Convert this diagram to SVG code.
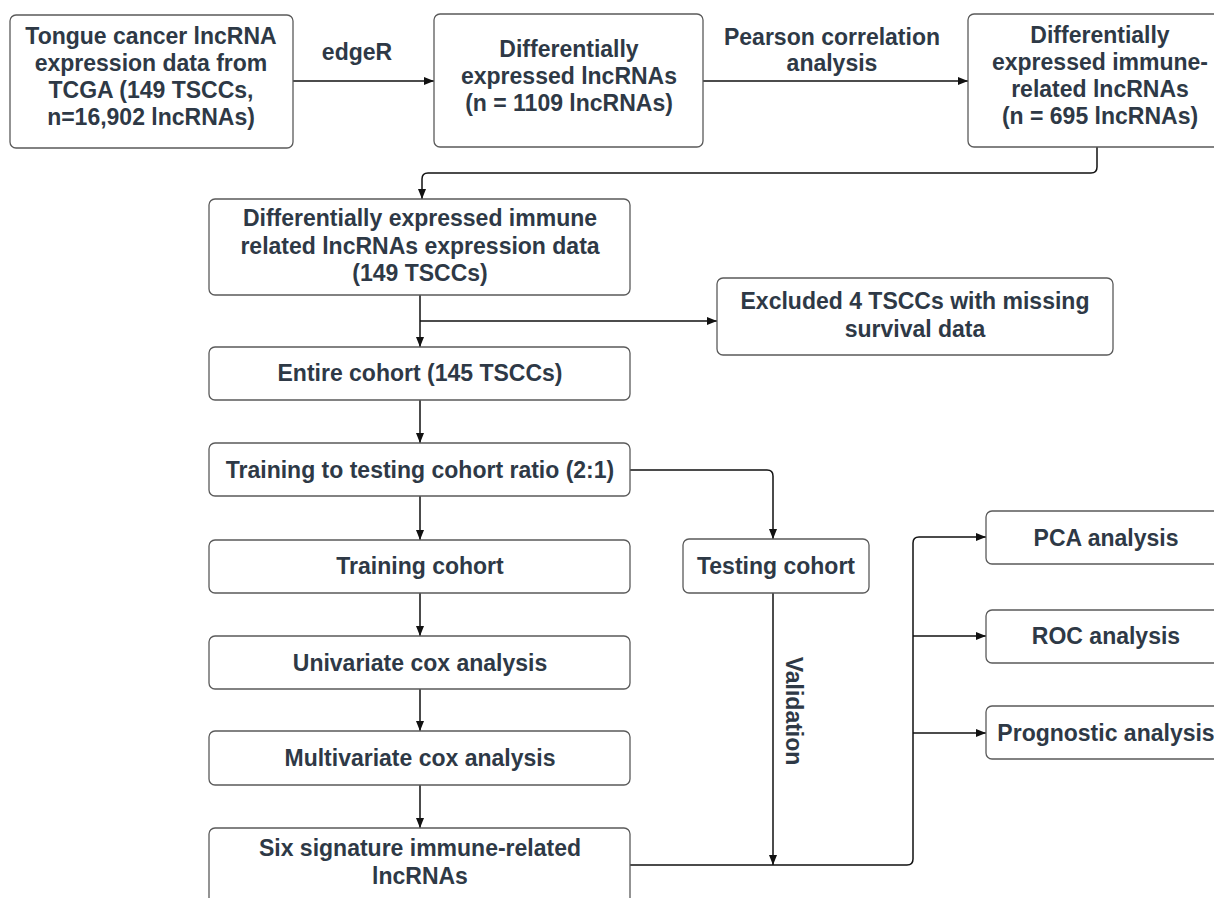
<svg xmlns="http://www.w3.org/2000/svg" width="1214" height="898" viewBox="0 0 1214 898">
<style>
.box{fill:#fff;stroke:#5a5a5a;stroke-width:1.3}
.t{font-family:"Liberation Sans",Arial,sans-serif;font-weight:bold;font-size:23px;fill:#2e3946;text-anchor:middle}
.c{fill:none;stroke:#111;stroke-width:1.5}
</style>
<defs>
<marker id="ah" viewBox="0 0 10 10" refX="10" refY="5" markerWidth="10" markerHeight="10" markerUnits="userSpaceOnUse" orient="auto">
<path d="M0,1 L10,5 L0,9 Z" fill="#111"/>
</marker>
</defs>
<rect width="1214" height="898" fill="#fff"/>
<g id="connectors">
<path class="c" d="M293,81 H434" marker-end="url(#ah)"/>
<path class="c" d="M703,81 H968" marker-end="url(#ah)"/>
<path class="c" d="M1097,147 V167 Q1097,173 1091,173 H428 Q422,173 422,179 V199" marker-end="url(#ah)"/>
<path class="c" d="M420,295 V347" marker-end="url(#ah)"/>
<path class="c" d="M420,321 H717" marker-end="url(#ah)"/>
<path class="c" d="M420,400 V443" marker-end="url(#ah)"/>
<path class="c" d="M630,470 H767 Q773,470 773,476 V539" marker-end="url(#ah)"/>
<path class="c" d="M420,496 V540" marker-end="url(#ah)"/>
<path class="c" d="M420,593 V636" marker-end="url(#ah)"/>
<path class="c" d="M420,689 V731" marker-end="url(#ah)"/>
<path class="c" d="M420,785 V828" marker-end="url(#ah)"/>
<path class="c" d="M773,593 V865" marker-end="url(#ah)"/>
<path class="c" d="M630,865 H907 Q913,865 913,859 V543 Q913,537 919,537 H986" marker-end="url(#ah)"/>
<path class="c" d="M913,636 H986" marker-end="url(#ah)"/>
<path class="c" d="M913,733 H986" marker-end="url(#ah)"/>
<text class="t" x="357" y="60">edgeR</text>
<text class="t" x="832" y="45">Pearson correlation</text>
<text class="t" x="832" y="71">analysis</text>
<text class="t" transform="translate(786,711) rotate(90)" x="0" y="0">Validation</text>
</g>
<g id="n1">
<rect class="box" x="10" y="15" width="283" height="133" rx="6"/>
<text class="t" x="151" y="44">Tongue cancer lncRNA</text>
<text class="t" x="151" y="71">expression data from</text>
<text class="t" x="151" y="98">TCGA (149 TSCCs,</text>
<text class="t" x="151" y="125">n=16,902 lncRNAs)</text>
</g>
<g id="n2">
<rect class="box" x="434" y="14" width="269" height="133" rx="6"/>
<text class="t" x="569" y="57">Differentially</text>
<text class="t" x="569" y="84">expressed lncRNAs</text>
<text class="t" x="569" y="111">(n = 1109 lncRNAs)</text>
</g>
<g id="n3">
<rect class="box" x="968" y="14" width="264" height="133" rx="6"/>
<text class="t" x="1100" y="43">Differentially</text>
<text class="t" x="1100" y="70">expressed immune-</text>
<text class="t" x="1100" y="97">related lncRNAs</text>
<text class="t" x="1100" y="124">(n = 695 lncRNAs)</text>
</g>
<g id="n4">
<rect class="box" x="209" y="199" width="421" height="96" rx="6"/>
<text class="t" x="420" y="226">Differentially expressed immune</text>
<text class="t" x="420" y="254">related lncRNAs expression data</text>
<text class="t" x="420" y="281">(149 TSCCs)</text>
</g>
<g id="n5">
<rect class="box" x="717" y="278" width="396" height="77" rx="6"/>
<text class="t" x="915" y="309">Excluded 4 TSCCs with missing</text>
<text class="t" x="915" y="337">survival data</text>
</g>
<g id="n6">
<rect class="box" x="209" y="347" width="421" height="53" rx="6"/>
<text class="t" x="420" y="381">Entire cohort (145 TSCCs)</text>
</g>
<g id="n7">
<rect class="box" x="209" y="443" width="421" height="53" rx="6"/>
<text class="t" x="420" y="478">Training to testing cohort ratio (2:1)</text>
</g>
<g id="n8">
<rect class="box" x="209" y="540" width="421" height="53" rx="6"/>
<text class="t" x="420" y="574">Training cohort</text>
</g>
<g id="n9">
<rect class="box" x="683" y="539" width="186" height="54" rx="6"/>
<text class="t" x="776" y="574">Testing cohort</text>
</g>
<g id="n10">
<rect class="box" x="209" y="636" width="421" height="53" rx="6"/>
<text class="t" x="420" y="671">Univariate cox analysis</text>
</g>
<g id="n11">
<rect class="box" x="209" y="731" width="421" height="54" rx="6"/>
<text class="t" x="420" y="766">Multivariate cox analysis</text>
</g>
<g id="n12">
<rect class="box" x="209" y="828" width="421" height="90" rx="6"/>
<text class="t" x="420" y="856">Six signature immune-related</text>
<text class="t" x="420" y="884">lncRNAs</text>
</g>
<g id="n13">
<rect class="box" x="986" y="511" width="240" height="53" rx="6"/>
<text class="t" x="1106" y="546">PCA analysis</text>
</g>
<g id="n14">
<rect class="box" x="986" y="610" width="240" height="53" rx="6"/>
<text class="t" x="1106" y="644">ROC analysis</text>
</g>
<g id="n15">
<rect class="box" x="986" y="706" width="240" height="53" rx="6"/>
<text class="t" x="1106" y="741">Prognostic analysis</text>
</g>
</svg>
